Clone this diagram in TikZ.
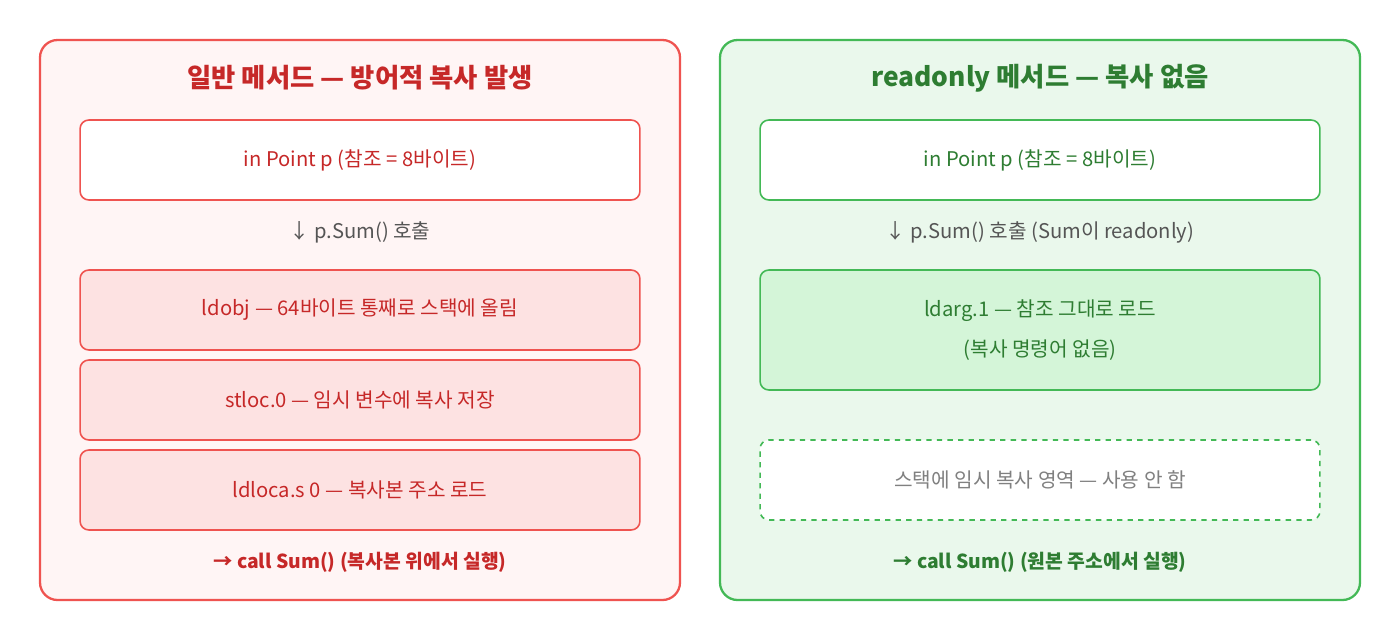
\documentclass[tikz,border=0pt]{standalone}
\usepackage{fontspec}
\setmainfont{Noto Sans CJK KR}
\usetikzlibrary{positioning}
\definecolor{redline}{HTML}{EF5350}
\definecolor{redtext}{HTML}{C62828}
\definecolor{redbg}{HTML}{FFF5F5}
\definecolor{redbox}{HTML}{FDE2E2}
\definecolor{greenline}{HTML}{43B956}
\definecolor{greentext}{HTML}{2E7D32}
\definecolor{greenbg}{HTML}{EAF8EC}
\definecolor{greenbox}{HTML}{D4F5D8}
\definecolor{graytext}{HTML}{555555}
\begin{document}
\begin{tikzpicture}[x=0.02cm, y=-0.02cm]
    \tikzset{
        panel/.style={rounded corners=10pt, line width=1.3pt},
        stepbox/.style={rounded corners=5pt, line width=0.9pt, minimum width=11.2cm, inner sep=0pt, align=center, font=\fontsize{11.5}{22}\selectfont},
        title_label/.style={font=\fontsize{15}{18}\selectfont\bfseries},
        note_label/.style={font=\fontsize{11.5}{13}\selectfont, text=graytext},
        foot_label/.style={font=\fontsize{11}{13}\selectfont\bfseries}
    }
    \useasboundingbox (0,0) rectangle (1400,640);

    % left panel
    \draw[panel, draw=redline, fill=redbg] (40,40) rectangle (680,600);
    \node[title_label, text=redtext] (Ltitle) at (360,78) {일반 메서드 — 방어적 복사 발생};
    \node[stepbox, draw=redline, fill=white, text=redtext, minimum height=1.6cm] (Lin) at (360,160) {in Point p (참조 = 8바이트)};
    \node[note_label] (Lcall) at (360,232) {↓ p.Sum() 호출};
    \node[stepbox, draw=redline, fill=redbox, text=redtext, minimum height=1.6cm] (Ls1) at (360,310) {ldobj — 64바이트 통째로 스택에 올림};
    \node[stepbox, draw=redline, fill=redbox, text=redtext, minimum height=1.6cm] (Ls2) at (360,400) {stloc.0 — 임시 변수에 복사 저장};
    \node[stepbox, draw=redline, fill=redbox, text=redtext, minimum height=1.6cm] (Ls3) at (360,490) {ldloca.s 0 — 복사본 주소 로드};
    \node[foot_label, text=redtext] (Lfoot) at (360,562) {→ call Sum() (복사본 위에서 실행)};

    % right panel
    \draw[panel, draw=greenline, fill=greenbg] (720,40) rectangle (1360,600);
    \node[title_label, text=greentext] (Rtitle) at (1040,78) {readonly 메서드 — 복사 없음};
    \node[stepbox, draw=greenline, fill=white, text=greentext, minimum height=1.6cm] (Rin) at (1040,160) {in Point p (참조 = 8바이트)};
    \node[note_label] (Rcall) at (1040,232) {↓ p.Sum() 호출 (Sum이 readonly)};
    \node[stepbox, draw=greenline, fill=greenbox, text=greentext, minimum height=2.4cm, font=\fontsize{11.5}{22.5}\selectfont] (Rs1) at (1040,330) {ldarg.1 — 참조 그대로 로드\\(복사 명령어 없음)};
    \node[stepbox, draw=greenline, dashed, fill=white, text=gray, minimum height=1.6cm] (Rs2) at (1040,480) {스택에 임시 복사 영역 — 사용 안 함};
    \node[foot_label, text=greentext] (Rfoot) at (1040,562) {→ call Sum() (원본 주소에서 실행)};
\end{tikzpicture}
\end{document}
